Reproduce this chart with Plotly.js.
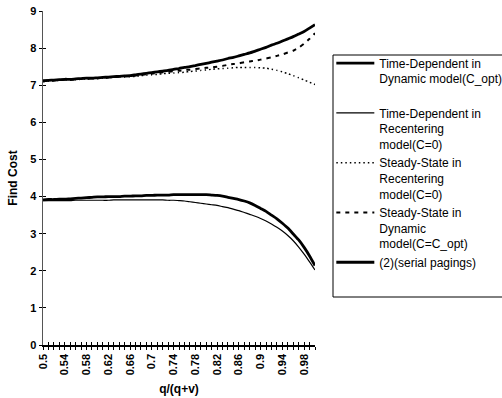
<!DOCTYPE html>
<html><head><meta charset="utf-8">
<script src="https://cdn.plot.ly/plotly-3.0.1.min.js"></script>
<style>html,body{margin:0;padding:0;background:#fff}#c{width:502px;height:398px}</style>
</head><body><div id="c"></div>
<script>
const q = [0.50,0.51,0.52,0.53,0.54,0.55,0.56,0.57,0.58,0.59,0.60,0.61,0.62,0.63,0.64,0.65,0.66,0.67,0.68,0.69,0.70,0.71,0.72,0.73,0.74,0.75,0.76,0.77,0.78,0.79,0.80,0.81,0.82,0.83,0.84,0.85,0.86,0.87,0.88,0.89,0.90,0.91,0.92,0.93,0.94,0.95,0.96,0.97,0.98,0.99,1.00];
const tdDynamic = [7.12,7.13,7.14,7.15,7.16,7.16,7.17,7.18,7.19,7.19,7.20,7.21,7.22,7.23,7.24,7.25,7.26,7.28,7.30,7.32,7.34,7.36,7.38,7.40,7.43,7.45,7.48,7.50,7.53,7.56,7.59,7.62,7.65,7.68,7.72,7.75,7.79,7.83,7.87,7.92,7.97,8.02,8.08,8.13,8.19,8.25,8.31,8.38,8.45,8.54,8.63];
const tdRecenter = [3.89,3.89,3.89,3.89,3.89,3.89,3.90,3.90,3.90,3.90,3.90,3.90,3.90,3.91,3.91,3.91,3.91,3.91,3.91,3.91,3.91,3.91,3.91,3.90,3.90,3.89,3.88,3.86,3.84,3.82,3.80,3.78,3.76,3.73,3.70,3.66,3.62,3.57,3.52,3.47,3.41,3.34,3.26,3.17,3.07,2.95,2.81,2.64,2.45,2.24,2.02];
const ssRecenter = [7.10,7.11,7.12,7.13,7.14,7.14,7.15,7.16,7.17,7.17,7.18,7.19,7.20,7.21,7.22,7.22,7.23,7.24,7.26,7.27,7.28,7.29,7.31,7.32,7.33,7.34,7.35,7.37,7.38,7.40,7.41,7.43,7.44,7.45,7.46,7.47,7.48,7.48,7.48,7.48,7.47,7.46,7.43,7.40,7.36,7.31,7.26,7.20,7.14,7.08,7.02];
const ssDynamic = [7.11,7.12,7.13,7.14,7.15,7.15,7.16,7.17,7.18,7.18,7.19,7.20,7.21,7.22,7.23,7.24,7.25,7.26,7.28,7.30,7.31,7.33,7.35,7.36,7.38,7.39,7.41,7.42,7.44,7.45,7.47,7.48,7.50,7.52,7.55,7.57,7.59,7.62,7.64,7.66,7.69,7.72,7.75,7.79,7.83,7.88,7.93,8.01,8.12,8.25,8.40];
const serial = [3.91,3.92,3.92,3.93,3.93,3.94,3.95,3.96,3.97,3.98,3.99,3.99,4.00,4.00,4.00,4.01,4.01,4.02,4.02,4.03,4.03,4.04,4.04,4.04,4.05,4.05,4.05,4.05,4.05,4.05,4.05,4.04,4.03,4.01,3.98,3.95,3.92,3.88,3.83,3.76,3.68,3.60,3.50,3.40,3.28,3.15,2.99,2.83,2.63,2.40,2.14];
const names = ["Time-Dependent in<br>Dynamic model(C_opt)<br> ","Time-Dependent in<br>Recentering<br>model(C=0)","Steady-State in<br>Recentering<br>model(C=0)","Steady-State in<br>Dynamic<br>model(C=C_opt)","(2)(serial pagings)"];
const xTickVals = [0.50,0.54,0.58,0.62,0.66,0.70,0.74,0.78,0.82,0.86,0.90,0.94,0.98];
const xTickText = ["0.5","0.54","0.58","0.62","0.66","0.7","0.74","0.78","0.82","0.86","0.9","0.94","0.98"];

const F = "Liberation Sans, Arial, sans-serif";
const series = [tdDynamic, tdRecenter, ssRecenter, ssDynamic, serial];
const styles = [
  {width:2.8, dash:"solid"},
  {width:1.2, dash:"solid"},
  {width:1.5, dash:"1.5px,3px"},
  {width:2, dash:"4px,5px"},
  {width:2.8, dash:"solid"}
];
const traces = series.map((s,i)=>({
  x:q, y:s, type:"scatter", mode:"lines", name:names[i], legendgroup:"g"+i,
  line:{color:"#000", width:styles[i].width, dash:styles[i].dash, shape:"spline", smoothing:0.6}
}));
traces.push({x:[0.5],y:[0],xaxis:"x2",yaxis:"y2",mode:"markers",marker:{opacity:0},showlegend:false,hoverinfo:"skip"});

const layout = {
  width:502, height:398,
  margin:{l:43, r:187, t:11, b:53, autoexpand:false},
  paper_bgcolor:"#fff", plot_bgcolor:"#fff",
  showlegend:true,
  font:{family:F, color:"#000"},
  xaxis:{range:[0.5,1.0], showgrid:false, zeroline:false, showline:true, linecolor:"#000", linewidth:1.5,
    tickmode:"array", tickvals:xTickVals, ticktext:xTickText, tickangle:-90,
    ticks:"outside", ticklen:3, tickcolor:"#000",
    minor:{dtick:0.01, tick0:0.5, ticks:"outside", ticklen:3, tickcolor:"#000", showgrid:false},
    tickfont:{family:F, size:11, weight:"bold"},
    title:{text:"q/(q+v)", font:{family:F, size:12, weight:"bold"}, standoff:10}},
  yaxis:{range:[0,9], dtick:1, showgrid:false, zeroline:false, showline:true, linecolor:"#555", linewidth:1.5,
    ticks:"outside", ticklen:3, tickcolor:"#000",
    tickfont:{family:F, size:11, weight:"bold"},
    title:{text:"Find Cost", font:{family:F, size:12, weight:"bold"}, standoff:10}},
  xaxis2:{overlaying:"x", anchor:"y2", range:[0.5,1.0], dtick:0.01, tick0:0.5, ticks:"inside", ticklen:3, tickcolor:"#000",
    showticklabels:false, showgrid:false, zeroline:false, showline:false},
  yaxis2:{overlaying:"y", anchor:"x2", range:[0,9], dtick:1, ticks:"inside", ticklen:3, tickcolor:"#000",
    showticklabels:false, showgrid:false, zeroline:false, showline:false},
  legend:{x:1.06, xanchor:"left", y:0.887, yanchor:"top", bgcolor:"rgba(0,0,0,0)", borderwidth:0,
    font:{family:F, size:12}, itemwidth:38, tracegroupgap:1, traceorder:"normal", valign:"top"},
  shapes:[{type:"rect", xref:"paper", yref:"paper", x0:(333-43)/272, x1:(520-43)/272, y0:(345-297)/334, y1:(345-55)/334,
    line:{color:"#000", width:1}, fillcolor:"rgba(0,0,0,0)"}]
};
Plotly.newPlot("c", traces, layout, {displayModeBar:false, staticPlot:true});
</script></body></html>
